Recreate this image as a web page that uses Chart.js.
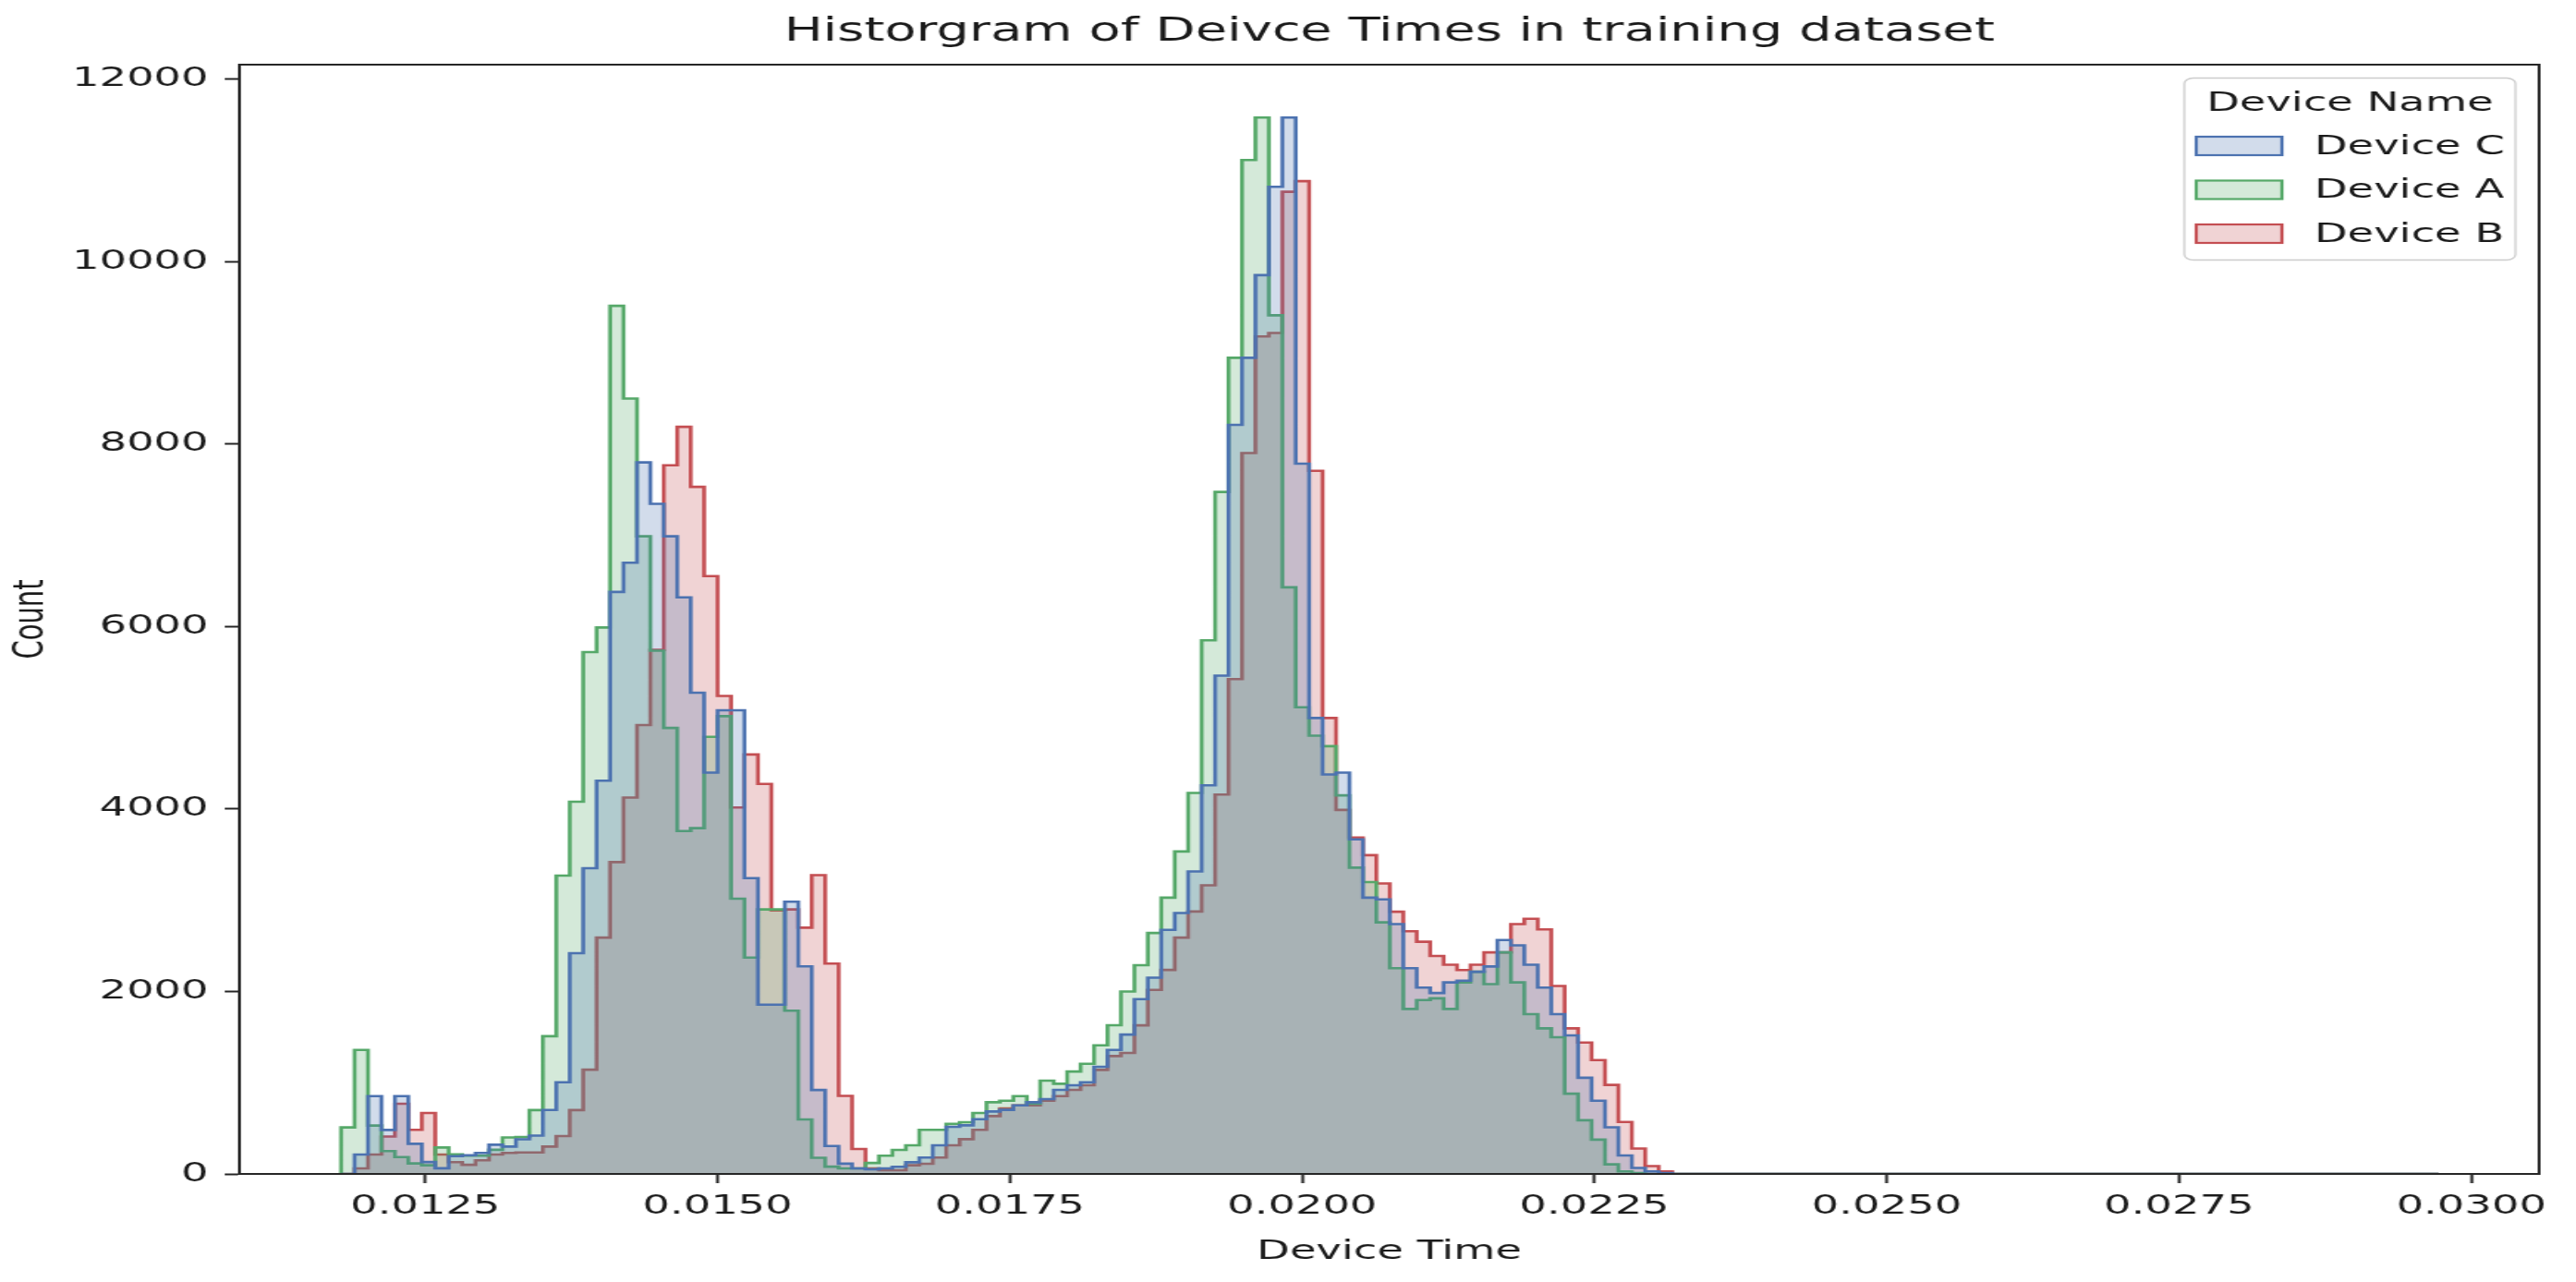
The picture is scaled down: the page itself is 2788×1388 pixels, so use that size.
<!DOCTYPE html>
<html lang="en">
<head>
<meta charset="UTF-8">
<title>Histogram of device times</title>
<script src="https://cdn.jsdelivr.net/npm/chart.js"></script>
<style>
  html, body { margin: 0; padding: 0; background: #fff; overflow: hidden; }
</style>
</head>
<body>
<!-- the reference picture is stretched sideways, so the canvas is drawn narrow and widened by css -->
<canvas id="hist" width="1743" height="1388" style="width:2788px;height:1388px"></canvas>
<script>
const deviceNames = ['Device C', 'Device A', 'Device B'];
const binStart = 0.01178;
const binWidth = 0.000115;

const countsC = [
  0, 213, 853, 482, 853, 330, 130, 62, 195, 205,
  230, 320, 300, 380, 420, 701, 1005, 2420, 3352, 4310,
  6380, 6700, 7800, 7345, 6990, 6320, 5275, 4400, 5082, 5082,
  3243, 1855, 1855, 2985, 2275, 920, 306, 113, 60, 50,
  60, 78, 128, 179, 314, 516, 533, 600, 685, 702,
  752, 786, 820, 921, 972, 1005, 1174, 1360, 1528, 1916,
  2152, 2675, 2860, 3316, 4260, 5463, 8212, 8947, 9853, 10821,
  11580, 7786, 4998, 4379, 4400, 3668, 3029, 3010, 2739, 2255,
  2042, 1983, 2100, 2119, 2216, 2274, 2564, 2506, 2293, 2042,
  1751, 1519, 1054, 802, 512, 202, 66, 28, 10,
  0, 0, 0, 0, 0, 0, 0, 0, 0, 0,
  0, 0, 0, 0, 0, 0, 0, 0, 0, 0,
  0, 0, 0, 0, 0, 0, 0, 0, 0, 0,
  0, 0, 0, 0, 0, 0, 0, 0, 0, 0,
  0, 0, 0, 0, 0, 0, 0, 0, 0, 0,
  0, 0, 0, 0, 0, 0, 0
];
const countsA = [
  510, 1360, 530, 250, 185, 115, 95, 290, 215, 200,
  200, 265, 400, 405, 700, 1510, 3270, 4080, 5720, 5990,
  9516, 8500, 6990, 5735, 4889, 3759, 3791, 4792, 5018, 3017,
  2371, 2900, 2900, 1790, 597, 177, 80, 60, 60, 120,
  200, 263, 314, 483, 483, 550, 567, 668, 786, 803,
  853, 769, 1022, 988, 1123, 1208, 1410, 1630, 2000, 2288,
  2641, 3029, 3535, 4176, 5850, 7476, 8947, 11115, 11580, 9412,
  6431, 5115, 4805, 4689, 4150, 3358, 3200, 2758, 2255, 1809,
  1906, 1925, 1809, 2100, 2216, 2080, 2429, 2100, 1751, 1596,
  1499, 880, 589, 376, 105, 28, 10, 0, 0,
  0, 0, 0, 0, 0, 0, 0, 0, 0, 0,
  0, 0, 0, 0, 0, 0, 0, 0, 0, 0,
  0, 0, 0, 0, 0, 0, 0, 0, 0, 0,
  0, 0, 0, 0, 0, 0, 0, 0, 0, 0,
  0, 0, 0, 0, 0, 0, 0, 0, 0, 0,
  0, 0, 0, 0, 0, 0, 0
];
const countsB = [
  0, 60, 213, 410, 770, 483, 668, 213, 129, 100,
  150, 213, 230, 235, 235, 300, 415, 700, 1143, 2591,
  3418, 4126, 4920, 5745, 7768, 8190, 7532, 6554, 5239, 4017,
  4598, 4275, 2888, 2900, 2700, 3275, 2306, 855, 274, 60,
  40, 40, 95, 112, 179, 314, 381, 483, 634, 718,
  752, 752, 803, 853, 921, 972, 1140, 1292, 1326, 1629,
  2017, 2236, 2591, 2877, 3164, 4159, 5424, 7902, 9180, 9218,
  10767, 10883, 7708, 4998, 3990, 3688, 3494, 3184, 2874, 2661,
  2545, 2390, 2293, 2235, 2293, 2429, 2429, 2739, 2797, 2681,
  2061, 1596, 1441, 1248, 976, 570, 279, 86, 28,
  0, 0, 0, 0, 0, 0, 0, 0, 0, 0,
  0, 0, 0, 0, 0, 0, 0, 0, 0, 0,
  0, 0, 0, 0, 0, 0, 0, 0, 0, 0,
  0, 0, 0, 0, 0, 0, 0, 0, 0, 0,
  0, 0, 0, 0, 0, 0, 0, 0, 0, 0,
  0, 0, 0, 0, 0, 0, 0
];

const xTicks = [0.0125, 0.0150, 0.0175, 0.0200, 0.0225, 0.0250, 0.0275, 0.0300];
const yTicks = [0, 2000, 4000, 6000, 8000, 10000, 12000];
const xRange = [0.01091, 0.03058];
const yMax = 12160;

const ink = '#1a1a1a';
const FS = 29;

// seaborn "step" outline: up from the baseline, across every bin, back down
function stepPoints(counts) {
  const pts = [{ x: binStart, y: 0 }];
  counts.forEach((c, k) => pts.push({ x: binStart + k * binWidth, y: c }));
  pts.push({ x: binStart + counts.length * binWidth, y: 0 });
  return pts;
}

function histSet(label, counts, rgb) {
  return {
    label: label,
    data: stepPoints(counts),
    stepped: 'before',
    fill: 'origin',
    borderColor: `rgb(${rgb})`,
    backgroundColor: `rgba(${rgb},0.25)`,
    borderWidth: 2.6,
    pointRadius: 0,
    pointHoverRadius: 0
  };
}

// top and right spines, plus a crisp bottom/left
const frame = {
  id: 'frame',
  afterDatasetsDraw(chart) {
    const a = chart.chartArea;
    const ctx = chart.ctx;
    ctx.save();
    ctx.strokeStyle = '#262626';
    ctx.lineWidth = 2;
    ctx.strokeRect(a.left, a.top, a.right - a.left, a.bottom - a.top);
    ctx.restore();
  }
};

const deviceLegend = {
  id: 'deviceLegend',
  afterDraw(chart) {
    const { ctx, chartArea } = chart;
    const w = 224, h = 197;
    const right = chartArea.right - 16;
    const top = chartArea.top + 14.5;
    const left = right - w;
    ctx.save();
    ctx.beginPath();
    if (ctx.roundRect) ctx.roundRect(left, top, w, h, 6);
    else ctx.rect(left, top, w, h);
    ctx.fillStyle = 'rgba(255,255,255,0.8)';
    ctx.fill();
    ctx.strokeStyle = '#cccccc';
    ctx.lineWidth = 1.3;
    ctx.stroke();

    ctx.font = `${FS}px "DejaVu Sans"`;
    ctx.fillStyle = ink;
    ctx.textAlign = 'center';
    ctx.textBaseline = 'middle';
    ctx.fillText('Device Name', left + w / 2, top + 27.5);

    chart.data.datasets.forEach((ds, i) => {
      const cy = top + 73.5 + i * 47.5;
      ctx.fillStyle = '#fff';
      ctx.fillRect(left + 8, cy - 10, 58, 20);
      ctx.fillStyle = ds.backgroundColor;
      ctx.fillRect(left + 8, cy - 10, 58, 20);
      ctx.strokeStyle = ds.borderColor;
      ctx.lineWidth = 2.2;
      ctx.strokeRect(left + 8, cy - 10, 58, 20);
      ctx.fillStyle = ink;
      ctx.textAlign = 'left';
      ctx.fillText(ds.label, left + 88, cy + 1);
    });
    ctx.restore();
  }
};

Chart.defaults.font.family = '"DejaVu Sans", Verdana, sans-serif';
Chart.defaults.color = ink;

new Chart(document.getElementById('hist').getContext('2d'), {
  type: 'line',
  data: {
    datasets: [
      histSet(deviceNames[0], countsC, '76,114,176'),
      histSet(deviceNames[1], countsA, '85,168,104'),
      histSet(deviceNames[2], countsB, '196,78,82')
    ]
  },
  options: {
    responsive: false,
    devicePixelRatio: 1,
    animation: false,
    events: [],
    layout: { padding: { left: 0, right: 25, top: 0, bottom: 0 } },
    plugins: {
      legend: { display: false },
      tooltip: { enabled: false },
      title: {
        display: true,
        fullSize: false,   // centre over the axes, like matplotlib
        text: 'Historgram of Deivce Times in training dataset',
        color: ink,
        font: { size: 35, weight: 'normal' },
        padding: { top: 14, bottom: 14 }
      }
    },
    scales: {
      x: {
        type: 'linear',
        min: xRange[0],
        max: xRange[1],
        afterBuildTicks: s => { s.ticks = xTicks.map(v => ({ value: v })); },
        afterFit: s => { s.height = 117; },
        grid: { drawOnChartArea: false, drawTicks: true, tickLength: 10, tickColor: '#262626', tickWidth: 2 },
        border: { display: true, color: '#262626', width: 2 },
        ticks: {
          padding: 8,
          maxRotation: 0,
          autoSkip: false,
          color: ink,
          font: { size: FS },
          callback: v => v.toFixed(4)
        },
        title: {
          display: true,
          text: 'Device Time',
          color: ink,
          font: { size: FS },
          padding: { top: 0, bottom: 15 }
        }
      },
      y: {
        type: 'linear',
        min: 0,
        max: yMax,
        afterBuildTicks: s => { s.ticks = yTicks.map(v => ({ value: v })); },
        afterFit: s => { s.width = 162; },
        grid: { drawOnChartArea: false, drawTicks: true, tickLength: 10, tickColor: '#262626', tickWidth: 2 },
        border: { display: true, color: '#262626', width: 2 },
        ticks: {
          padding: 11,
          color: ink,
          font: { size: FS },
          callback: v => String(v)
        },
        title: {
          display: true,
          text: 'Count',
          color: ink,
          font: { size: FS },
          padding: { top: 4, bottom: 0 }
        }
      }
    }
  },
  plugins: [frame, deviceLegend]
});
</script>
</body>
</html>
